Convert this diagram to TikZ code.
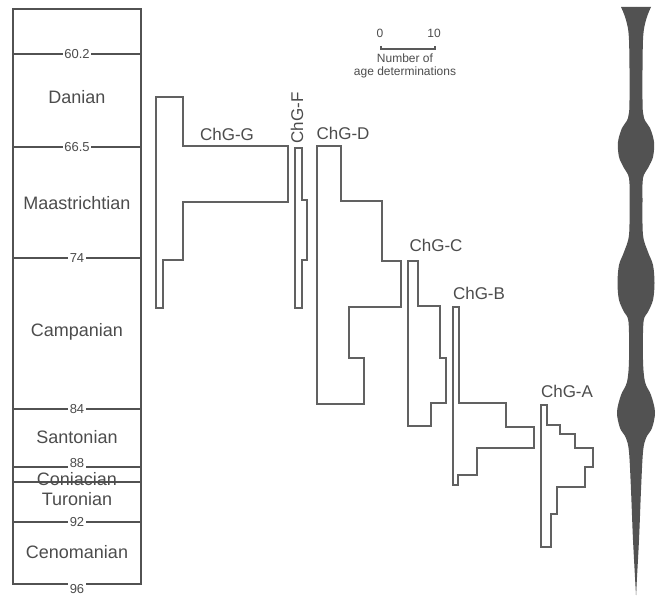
\documentclass[tikz,border=0pt]{standalone}
\usepackage{fontspec}
\setmainfont{Liberation Sans}
\begin{document}
\begin{tikzpicture}[x=1pt,y=-1pt,line join=miter]
\tikzset{
  bound/.style={draw=black!68,line width=1.6pt},
  agelabel/.style={font=\fontsize{13}{13}\selectfont,text=black!70,fill=white,inner sep=1.5pt},
  stagelabel/.style={font=\fontsize{18}{18}\selectfont,text=black!70},
  hist/.style={draw=black!62,line width=1.6pt},
  histlabel/.style={font=\fontsize{17}{17}\selectfont,text=black!70},
  scaletext/.style={font=\fontsize{12}{12.5}\selectfont,text=black!70,align=center}
}
\useasboundingbox (0,0) rectangle (656,596);
\draw[bound](13,9) rectangle (141,584);
\draw[bound](13,482)--(141,482);
\foreach \y/\a [count=\i] in {54/60.2,147/66.5,258/74,409/84,467/88,522/92}
{
    \draw[bound](13,\y)--(141,\y);
}
\foreach \y/\a [count=\i] in {54/60.2,147/66.5,258/74,409/84,463/88,522/92,589/96}
{
    \node[agelabel](age\i) at (77,\y){\a};
}
\node[stagelabel](danian) at (77,97){Danian};
\node[stagelabel](maastrichtian) at (77,203){Maastrichtian};
\node[stagelabel](campanian) at (77,332){Campanian};
\node[stagelabel](santonian) at (77,437){Santonian};
\node[stagelabel](coniacian) at (77,479){Coniacian};
\node[stagelabel](turonian) at (77,499){Turonian};
\node[stagelabel](cenomanian) at (77,552){Cenomanian};

\node[scaletext](zero) at (380,33){0};
\node[scaletext](ten) at (434,33){10};
\draw[draw=black!65,line width=1.2pt](381,46)--(381,49)--(435,49)--(435,46);
\node[scaletext](number) at (405,66){Number of\\age determinations};

\draw[hist](156,97)--(183,97)--(183,146)--(288,146)--(288,202)--(183,202)--(183,260)
    --(163,260)--(163,308)--(156,308)--cycle;
\draw[hist](295,148)--(302,148)--(302,200)--(307,200)--(307,260)--(302,260)--(302,308)
    --(295,308)--cycle;
\draw[hist](317,146)--(341,146)--(341,201)--(382,201)--(382,261)--(401,261)--(401,307)
    --(349,307)--(349,358)--(364,358)--(364,404)--(317,404)--cycle;
\draw[hist](408,261)--(418,261)--(418,306)--(440,306)--(440,358)--(446,358)--(446,403)
    --(431,403)--(431,426)--(408,426)--cycle;
\draw[hist](453,307)--(459,307)--(459,403)--(506,403)--(506,427)--(534,427)--(534,448)
    --(477,448)--(477,475)--(458,475)--(458,485)--(453,485)--cycle;
\draw[hist](541,405)--(547,405)--(547,425)--(560,425)--(560,434)--(575,434)--(575,448)
    --(593,448)--(593,467)--(585,467)--(585,487)--(557,487)--(557,514)--(551,514)
    --(551,547)--(541,547)--cycle;
\node[histlabel](chgG) at (227,134){ChG-G};
\node[histlabel,rotate=90](chgF) at (297,118){ChG-F};
\node[histlabel](chgD) at (343,133){ChG-D};
\node[histlabel](chgC) at (436,245){ChG-C};
\node[histlabel](chgB) at (479,293){ChG-B};
\node[histlabel](chgA) at (567,391){ChG-A};

\begin{scope}[shift={(636,0)}]
\foreach \s in {1,-1}
{
    \fill[black!68,xscale=\s]plot[smooth,tension=.55]coordinates{(15,7)(10,20)(7,40)(6.5,100)
        (8,118)(14,128)(18,142)(17,157)(12,168)(7,178)(6.5,200)(7,235)(12,252)(17,265)
        (18.5,283)(17,300)(12,312)(7.5,322)(7,360)(9,382)(15,395)(19,412)(16,428)(10,438)
        (7,452)(5,490)(3,540)(0,595)}--(0,595)--(0,7)--cycle;
}
\draw[black!68,line width=1pt](0,8)--(0,560);
\end{scope}
\end{tikzpicture}
\end{document}
